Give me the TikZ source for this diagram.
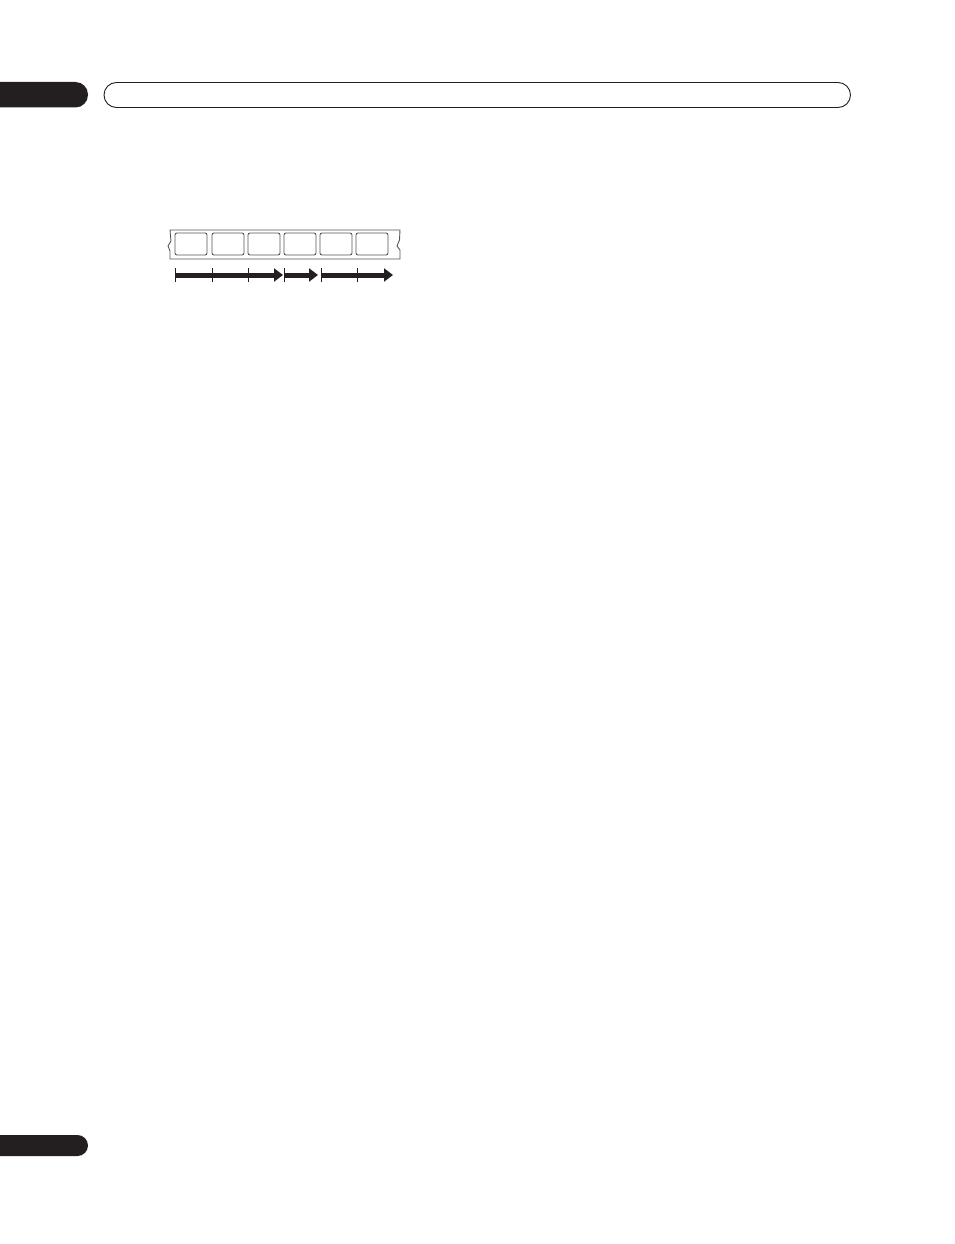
\documentclass[tikz,border=0pt]{standalone}
\usetikzlibrary{arrows.meta}
\definecolor{tabblack}{HTML}{231F20}
\definecolor{framegray}{HTML}{555555}
\begin{document}
\begin{tikzpicture}[x=1pt,y=-1pt,
  tab/.style={fill=tabblack,draw=none},
  framebox/.style={draw=framegray,line width=0.9pt,rounded corners=2pt,minimum width=32pt,minimum height=22pt,inner sep=0pt},
  strip/.style={draw=framegray,line width=0.9pt,fill=white},
  bigarrow/.style={draw=tabblack,line width=5pt,-{Triangle[length=9pt,width=13pt]},shorten >=-1pt},
  tick/.style={draw=tabblack,line width=0.9pt}]
\useasboundingbox (0,0) rectangle (954,1244);
\begin{scope}
\clip (0,0) rectangle (954,1244);
% top tab and header bar
\fill[tab,rounded corners=12.5pt] (-30,82) rectangle (88,107.5);
\draw[line width=0.9pt,draw=tabblack,rounded corners=12.5pt] (104,82.5) rectangle (850.5,107.5);
% bottom tab
\fill[tab,rounded corners=10.5pt] (-30,1135) rectangle (88,1156);
\end{scope}
% film strip
\draw[strip] (170,230) -- (400,230) -- (399.5,240) -- (397,246) -- (400,250) -- (400,259) -- (170,259) -- (170,251) -- (168,246) -- (171,241) -- cycle;
\foreach \i/\x in {1/191,2/228,3/264,4/300,5/336,6/372}{
  \node[framebox] (f\i) at (\x,244) {};
}
% arrows
\coordinate (a0) at (175,275);
\coordinate (a1) at (212,275);
\coordinate (a2) at (248,275);
\coordinate (a3) at (282,275);
\coordinate (b0) at (284.5,275);
\coordinate (b1) at (317,275);
\coordinate (c0) at (321,275);
\coordinate (c1) at (357,275);
\coordinate (c2) at (392,275);
\draw[bigarrow] (a0) -- (a3);
\draw[bigarrow] (b0) -- (b1);
\draw[bigarrow] (c0) -- (c2);
\foreach \p in {a0,a1,a2,b0,c0,c1}{
  \draw[tick] ([yshift=-7pt]\p) -- ([yshift=7pt]\p);
}
\end{tikzpicture}
\end{document}
